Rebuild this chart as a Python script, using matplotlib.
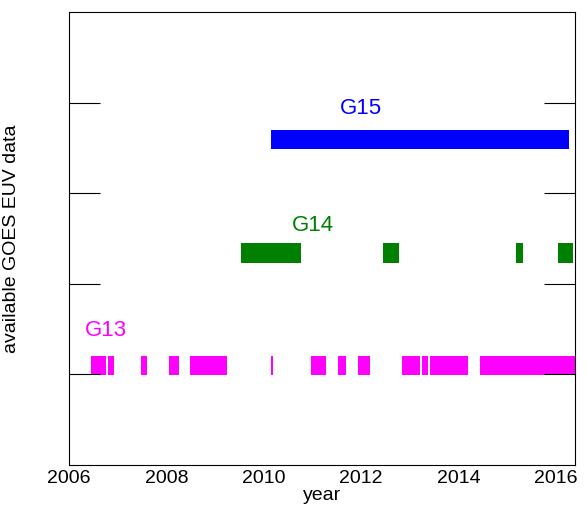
import matplotlib
matplotlib.use("Agg")
import matplotlib.pyplot as plt

g13 = [(2006.45, 2006.76), (2006.80, 2006.92), (2007.48, 2007.60), (2008.05, 2008.26),
       (2008.48, 2009.24), (2010.15, 2010.19), (2010.97, 2011.28), (2011.52, 2011.69),
       (2011.93, 2012.18), (2012.84, 2013.21), (2013.25, 2013.37), (2013.41, 2014.19),
       (2014.44, 2016.45)]
g14 = [(2009.53, 2010.76), (2012.45, 2012.78), (2015.18, 2015.32), (2016.04, 2016.35)]
g15 = [(2010.15, 2016.27)]
series = [("G13", g13, 1.10, "#ff00ff", (2006.75, 1.49)),
          ("G14", g14, 2.34, "#008000", (2011.0, 2.64)),
          ("G15", g15, 3.59, "#0000ff", (2012.0, 3.93))]

fig = plt.figure(figsize=(5.87, 5.12), dpi=100)
ax = fig.add_axes([69/587, 1-465/512, (575-69)/587, (465-12)/512])
h = 0.21
for name, segs, y, c, (tx, ty) in series:
    ax.broken_barh([(a, b - a) for a, b in segs], (y - h/2, h), color=c, linewidth=0)
    ax.text(tx, ty, name, color=c, fontsize=16, ha="center", va="center",
            family="Liberation Sans")
ax.set_xlim(2006, 2016.39)
ax.set_ylim(0, 5)
ax.set_xticks([2006, 2008, 2010, 2012, 2014, 2016])
ax.set_yticks([1, 2, 3, 4])
ax.set_yticklabels([])
ax.tick_params(direction="in", length=22, axis="y", left=True, right=True)
ax.tick_params(axis="x", length=0, labelsize=14)
for t in ax.get_xticklabels():
    t.set_family("Liberation Sans")
ax.set_xlabel("year", fontsize=14, labelpad=0, family="Liberation Sans")
ax.set_ylabel("available GOES EUV data", fontsize=14, labelpad=32, family="Liberation Sans")
fig.savefig("out.png", dpi=100)
